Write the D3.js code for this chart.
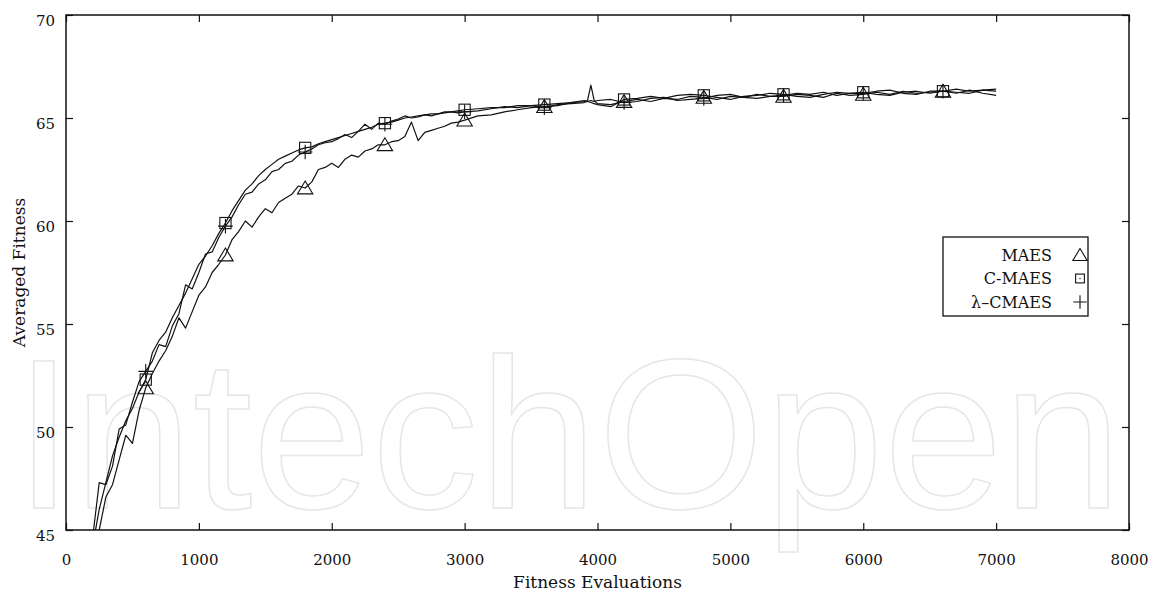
<!DOCTYPE html>
<html lang="en">
<head>
    <meta charset="UTF-8">
    <script src="https://cdnjs.cloudflare.com/ajax/libs/d3/7.8.5/d3.min.js"></script>
    <style>
        body { margin: 0; background: #fff; }
        svg { display: block; }
        text { font-family: "DejaVu Serif", "Liberation Serif", serif; fill: #111; }
    </style>
</head>
<body>
<svg id="chart" width="1153" height="592"></svg>
<script>
    // fitness evaluations (x), shared by all three runs
    const evals = [200, 250, 300, 350, 400, 450, 500, 550, 600, 650, 700, 750, 800, 850, 900, 950,
        1000, 1050, 1100, 1150, 1200, 1250, 1300, 1350, 1400, 1450, 1500, 1550, 1600, 1650, 1700, 1750,
        1800, 1850, 1900, 1950, 2000, 2050, 2100, 2150, 2200, 2250, 2300, 2350, 2400, 2450, 2500, 2550,
        2600, 2650, 2700, 2750, 2800, 2850, 2900, 2950, 3000,
        3100, 3200, 3300, 3400, 3500, 3600, 3700, 3800, 3900, 3925, 3950, 3975, 4000,
        4100, 4200, 4300, 4400, 4500, 4600, 4700, 4800, 4900, 5000, 5100, 5200, 5300, 5400, 5500,
        5600, 5700, 5800, 5900, 6000, 6100, 6200, 6300, 6400, 6500, 6600, 6700, 6800, 6900, 7000];

    const maes = [43.5, 45.0, 46.6, 47.2, 48.4, 49.6, 49.2, 50.8, 51.9, 52.6, 53.2, 53.7, 54.4, 55.3, 54.8, 55.6,
        56.4, 56.8, 57.5, 57.9, 58.35, 59.1, 59.5, 60.0, 59.7, 60.2, 60.6, 60.4, 60.9, 61.1, 61.3, 61.7,
        61.6, 61.9, 62.5, 62.6, 62.8, 62.6, 63.0, 63.2, 63.1, 63.4, 63.5, 63.7, 63.7, 63.85, 63.9, 64.1,
        64.8, 63.9, 64.3, 64.4, 64.5, 64.6, 64.75, 64.8, 64.9,
        65.1, 65.15, 65.3, 65.4, 65.5, 65.55, 65.6, 65.75, 65.8, 65.85, 66.6, 65.85, 65.7,
        65.65, 65.8, 65.9, 65.8, 65.95, 65.9, 66.05, 66.0, 65.9, 66.05, 66.0, 66.15, 66.05, 66.05, 66.15,
        66.1, 66.0, 66.2, 66.1, 66.15, 66.25, 66.15, 66.3, 66.2, 66.25, 66.3, 66.2, 66.35, 66.2, 66.1];

    const cmaes = [44.2, 46.0, 47.3, 48.6, 49.5, 50.3, 50.9, 51.7, 52.3, 53.6, 54.2, 54.6, 55.3, 55.9, 56.5, 57.2,
        57.9, 58.3, 58.8, 59.4, 59.9, 60.5, 61.0, 61.5, 61.8, 62.2, 62.5, 62.75, 63.0, 63.15, 63.3, 63.45,
        63.55, 63.6, 63.75, 63.85, 63.95, 64.05, 64.15, 64.25, 64.35, 64.45, 64.55, 64.7, 64.75, 64.8, 64.9, 65.0,
        65.05, 65.1, 65.15, 65.2, 65.2, 65.3, 65.3, 65.35, 65.4,
        65.45, 65.5, 65.5, 65.6, 65.6, 65.65, 65.7, 65.75, 65.85, 65.8, 65.75, 65.7, 65.65,
        65.55, 65.9, 65.95, 66.05, 65.95, 66.1, 66.15, 66.1, 66.0, 65.9, 66.05, 66.1, 66.2, 66.15, 66.05,
        66.0, 66.15, 66.25, 66.2, 66.25, 66.15, 66.1, 66.25, 66.3, 66.2, 66.3, 66.4, 66.3, 66.35, 66.3];

    const lcmaes = [44.6, 47.3, 47.2, 48.1, 49.9, 50.1, 51.2, 52.2, 52.7, 53.2, 54.0, 53.9, 54.9, 55.5, 56.9, 56.7,
        57.5, 58.4, 58.5, 59.2, 59.75, 60.2, 60.8, 61.3, 61.4, 61.8, 62.0, 62.4, 62.5, 62.8, 62.9, 63.2,
        63.35, 63.5, 63.7, 63.8, 63.85, 64.0, 64.2, 64.05, 64.35, 64.7, 64.45, 64.75, 64.7, 64.85, 64.95, 65.1,
        65.0, 65.05, 65.15, 65.1, 65.2, 65.25, 65.3, 65.25, 65.3,
        65.35, 65.45, 65.55, 65.5, 65.6, 65.5, 65.65, 65.7, 65.75, 65.8, 65.85, 65.8, 65.85,
        65.9, 65.75, 65.8, 65.95, 66.0, 65.85, 65.9, 65.95, 66.1, 66.15, 66.0, 65.95, 66.05, 66.1, 66.2,
        66.15, 66.25, 66.1, 66.2, 66.2, 66.3, 66.35, 66.2, 66.15, 66.3, 66.3, 66.25, 66.2, 66.35, 66.4];

    const seriesNames = ['MAES', 'C-MAES', '\u03bb\u2013CMAES'];
    const xTicks = [0, 1000, 2000, 3000, 4000, 5000, 6000, 7000, 8000];
    const yTicks = [45, 50, 55, 60, 65, 70];

    const margin = {top: 15, right: 24, bottom: 62, left: 66};
    const svg = d3.select('#chart');
    const W = +svg.attr('width'), H = +svg.attr('height');
    const width = W - margin.left - margin.right;
    const height = H - margin.top - margin.bottom;

    const xScale = d3.scaleLinear().domain([0, 8000]).range([0, width]);
    const yScale = d3.scaleLinear().domain([45, 70]).range([height, 0]);

    // watermark in the background
    svg.append('text')
        .attr('x', 14)
        .attr('y', 508)
        .attr('textLength', 1108)
        .attr('lengthAdjust', 'spacingAndGlyphs')
        .style('font-family', '"Liberation Sans", Arial, sans-serif')
        .style('font-size', '214px')
        .style('fill', 'none')
        .style('stroke', '#e6e6e6')
        .style('stroke-width', 1.5)
        .text('IntechOpen');

    const g = svg.append('g').attr('transform', `translate(${margin.left},${margin.top})`);

    svg.append('defs').append('clipPath').attr('id', 'plotClip')
        .append('rect').attr('width', width).attr('height', height);

    // axes with inward ticks, mirrored on top and right
    const fmt = d3.format('d');
    const xAxis = d3.axisBottom(xScale).tickValues(xTicks).tickFormat(fmt)
        .tickSizeInner(-7).tickSizeOuter(0).tickPadding(24);
    const gx = g.append('g').attr('transform', `translate(0,${height})`).call(xAxis);
    const yAxis = d3.axisLeft(yScale).tickValues(yTicks).tickFormat(fmt)
        .tickSizeInner(-7).tickSizeOuter(0).tickPadding(11);
    const gy = g.append('g').call(yAxis);
    gy.selectAll('text').attr('dy', '0.72em');

    const gxTop = g.append('g').call(d3.axisTop(xScale).tickValues(xTicks).tickSizeInner(-7).tickSizeOuter(0).tickFormat(''));
    const gyRight = g.append('g').attr('transform', `translate(${width},0)`)
        .call(d3.axisRight(yScale).tickValues(yTicks).tickSizeInner(-7).tickSizeOuter(0).tickFormat(''));

    [gx, gy, gxTop, gyRight].forEach(a => {
        a.select('.domain').remove();
        a.selectAll('line').attr('stroke', '#111').attr('stroke-width', 1.2);
        a.selectAll('text')
            .style('font-family', '"DejaVu Serif", serif')
            .style('font-size', '15px')
            .attr('fill', '#111');
    });

    g.append('rect')
        .attr('width', width).attr('height', height)
        .attr('fill', 'none').attr('stroke', '#111').attr('stroke-width', 1.5);

    // axis titles
    svg.append('text')
        .attr('x', margin.left + width / 2)
        .attr('y', 588)
        .attr('text-anchor', 'middle')
        .style('font-size', '17px')
        .text('Fitness Evaluations');
    svg.append('text')
        .attr('transform', `translate(25,${margin.top + height / 2}) rotate(-90)`)
        .attr('text-anchor', 'middle')
        .style('font-size', '17px')
        .text('Averaged Fitness');

    // curves
    const series = [maes, cmaes, lcmaes].map((vals, i) => ({
        name: seriesNames[i],
        points: evals.map((e, j) => ({x: e, y: vals[j]}))
    }));

    const line = d3.line().x(d => xScale(d.x)).y(d => yScale(d.y));

    g.append('g').attr('clip-path', 'url(#plotClip)')
        .selectAll('path.curve')
        .data(series).enter()
        .append('path')
        .attr('class', 'curve')
        .attr('d', d => line(d.points))
        .attr('fill', 'none')
        .attr('stroke', '#111')
        .attr('stroke-width', 1.2)
        .attr('stroke-linejoin', 'round');

    // point symbols
    function drawSymbol(sel, idx, s) {
        if (idx === 0) {
            sel.append('path')
                .attr('d', `M${-s * 0.55},${s * 0.42}L${s * 0.55},${s * 0.42}L0,${-s * 0.5}Z`);
        } else if (idx === 1) {
            sel.append('rect')
                .attr('x', -s * 0.4).attr('y', -s * 0.4)
                .attr('width', s * 0.8).attr('height', s * 0.8);
        } else {
            sel.append('path')
                .attr('d', `M${-s * 0.52},0H${s * 0.52}M0,${-s * 0.52}V${s * 0.52}`);
        }
        sel.selectAll('path, rect')
            .attr('fill', 'none').attr('stroke', '#111').attr('stroke-width', 1.1);
    }

    series.forEach((s, i) => {
        s.points.filter(p => p.x % 600 === 0).forEach(p => {
            const m = g.append('g').attr('transform', `translate(${xScale(p.x)},${yScale(p.y)})`);
            drawSymbol(m, i, 14);
        });
    });

    // legend
    const legend = svg.append('g').attr('transform', 'translate(943,237)');
    legend.append('rect')
        .attr('width', 145).attr('height', 79)
        .attr('fill', '#fff').attr('stroke', '#111').attr('stroke-width', 1.3);
    seriesNames.forEach((name, i) => {
        const cy = 18 + i * 23.5;
        legend.append('text')
            .attr('x', 109).attr('y', cy)
            .attr('dy', '0.35em')
            .attr('text-anchor', 'end')
            .style('font-size', '16px')
            .text(name);
        const m = legend.append('g').attr('transform', `translate(137,${cy})`);
        drawSymbol(m, i, i === 1 ? 11 : 13);
        if (i === 1) m.append('circle').attr('r', 0.7).attr('fill', '#111');
    });
</script>
</body>
</html>
